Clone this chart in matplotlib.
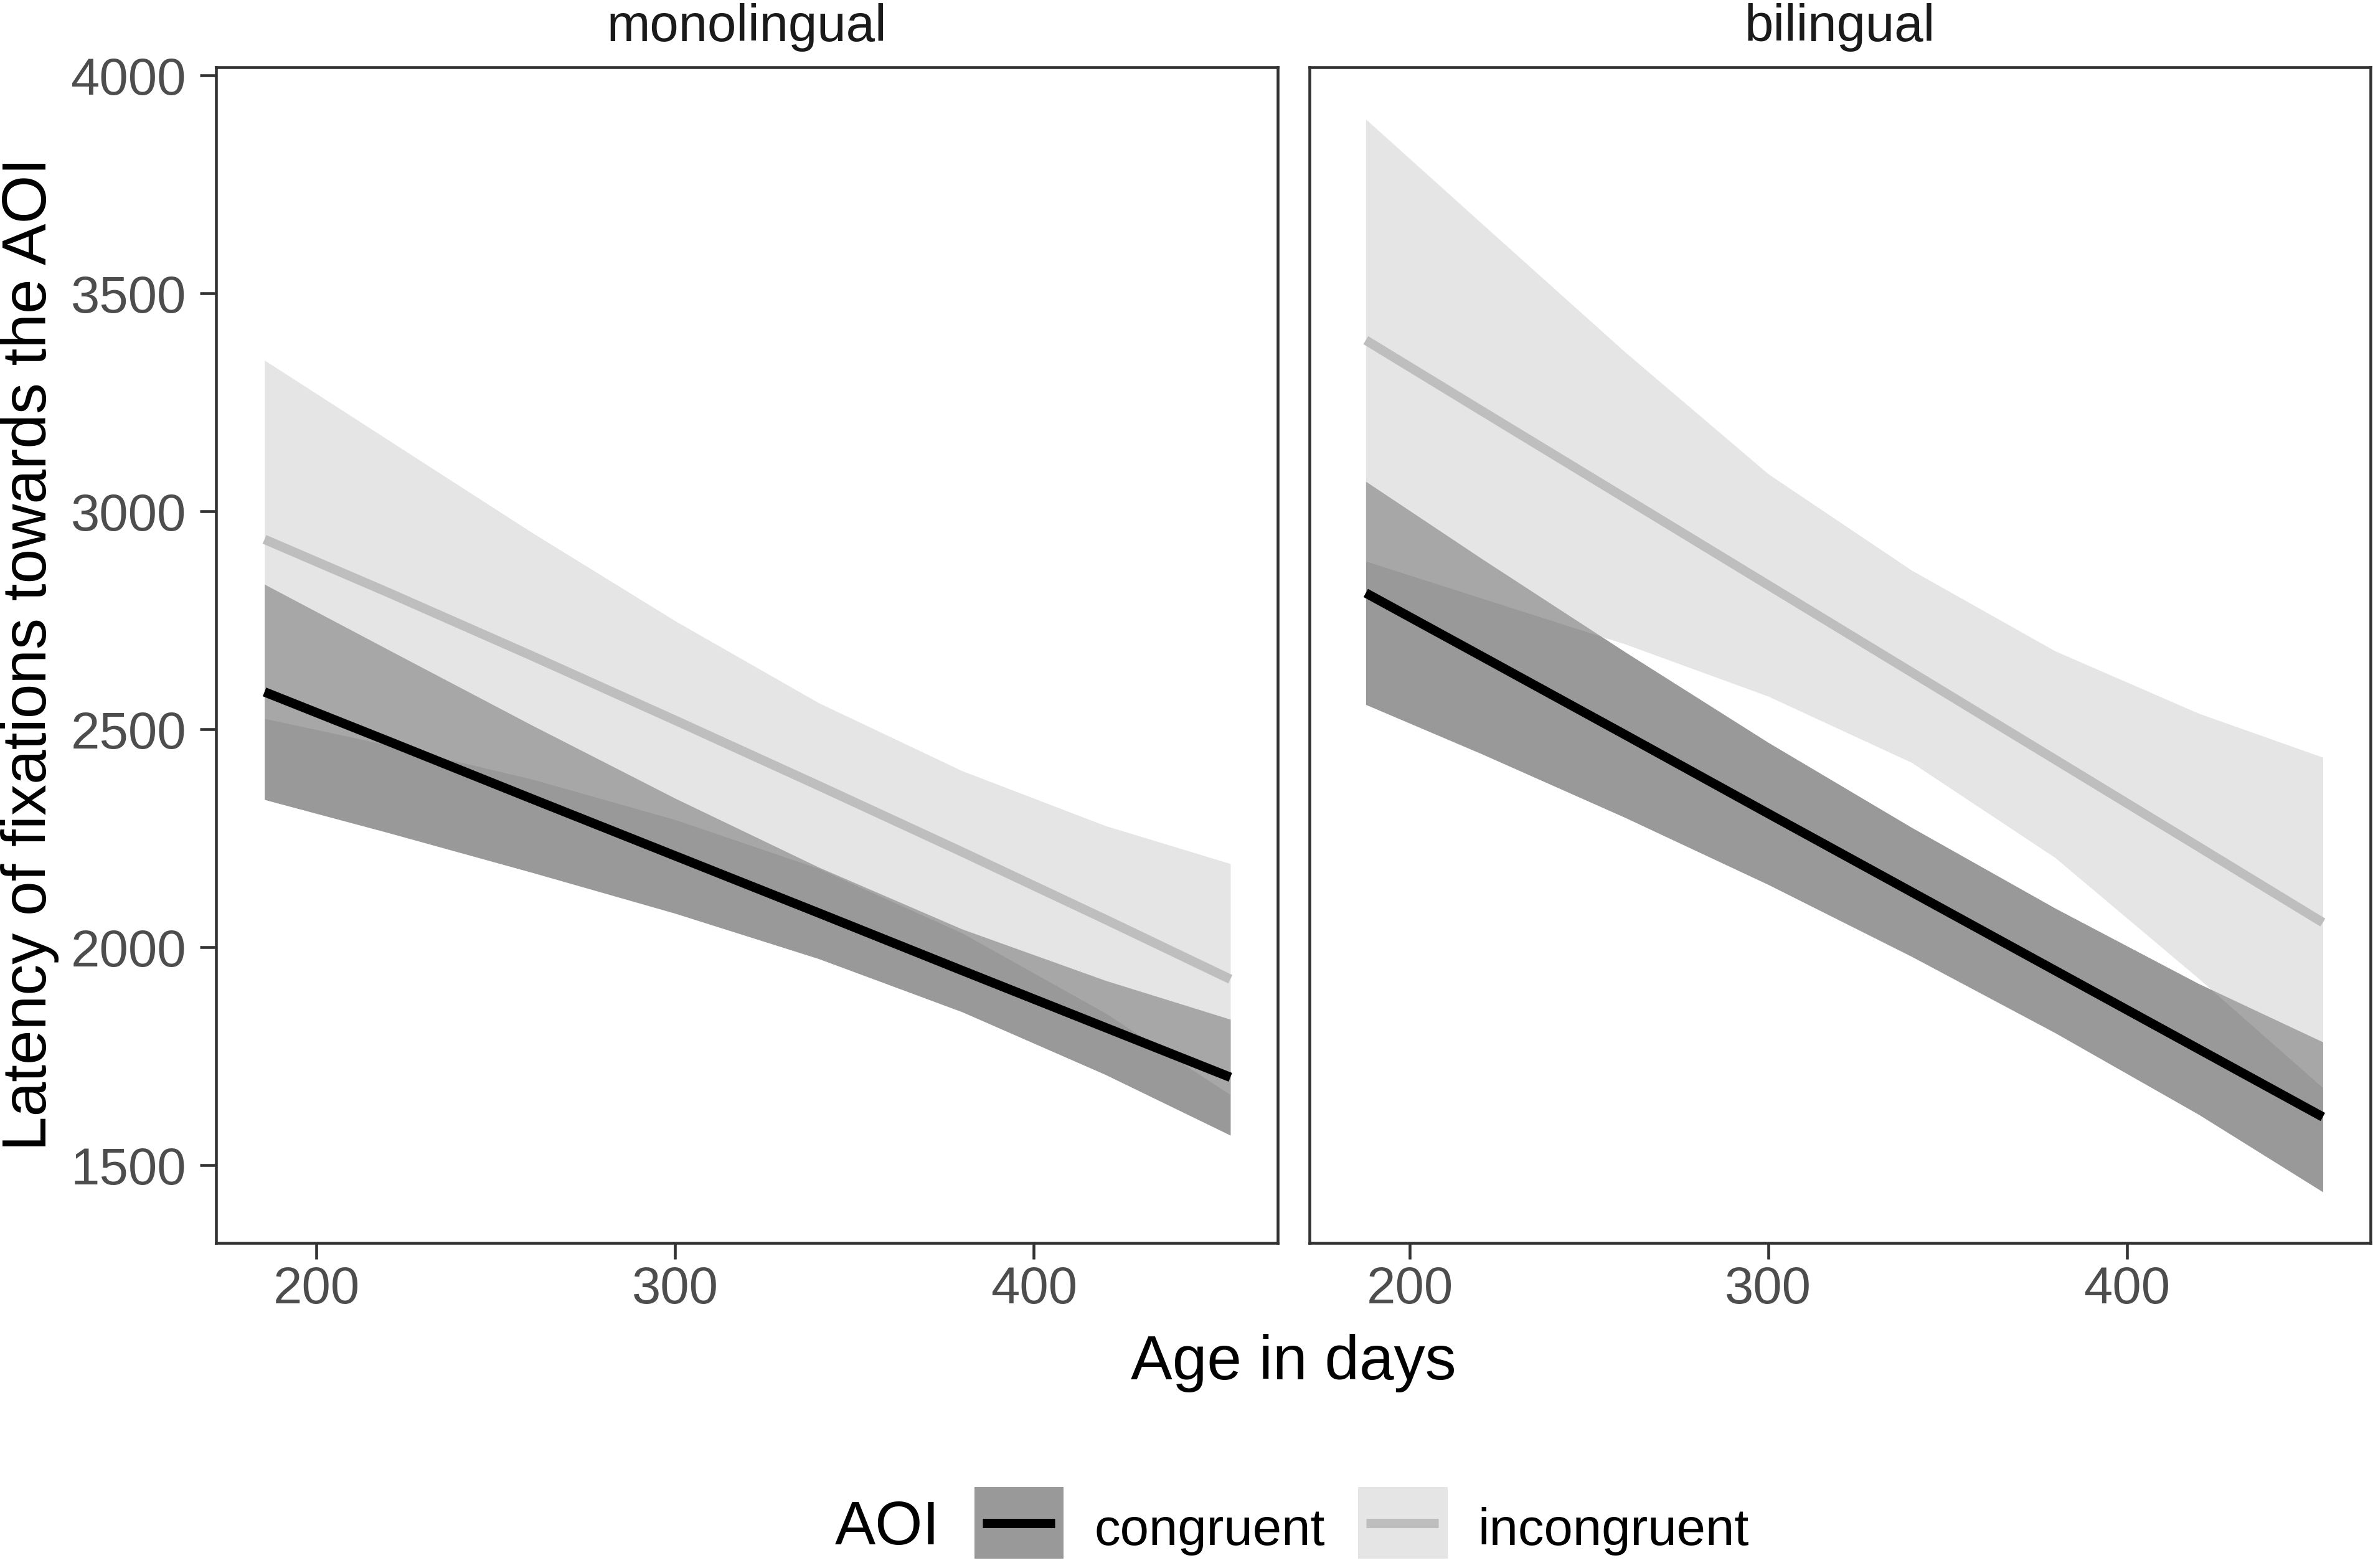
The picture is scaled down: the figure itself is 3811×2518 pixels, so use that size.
"""
    Latency of fixations towards the AOI by age, monolingual vs bilingual infants
"""

import matplotlib
matplotlib.use('Agg')
import matplotlib.pyplot as plt
from matplotlib.patches import Rectangle
from matplotlib.lines import Line2D

plt.rcParams['font.family'] = ['Liberation Sans', 'DejaVu Sans']

panels = ['monolingual', 'bilingual']
aoi_levels = ['congruent', 'incongruent']
aoi_colors = ['#000000', '#BEBEBE']

# values (age in days, latency in ms)
mono_age = [185.5, 220, 260, 300, 340, 380, 420, 454.8]
mono_cong_fit = [2586, 2473, 2341, 2210, 2079, 1947, 1816, 1702]
mono_cong_lo = [2339, 2263, 2172, 2078, 1974, 1852, 1708, 1569]
mono_cong_hi = [2833, 2683, 2510, 2342, 2184, 2042, 1924, 1835]
mono_incong_fit = [2936, 2814, 2669, 2521, 2371, 2219, 2064, 1927]
mono_incong_lo = [2525, 2464, 2386, 2293, 2181, 2033, 1849, 1662]
mono_incong_hi = [3347, 3164, 2952, 2749, 2561, 2405, 2279, 2192]

bili_age = [187.7, 220, 260, 300, 340, 380, 420, 454.7]
bili_cong_fit = [2813, 2668, 2488, 2307, 2127, 1947, 1767, 1611]
bili_cong_lo = [2557, 2444, 2298, 2144, 1979, 1804, 1617, 1439]
bili_cong_hi = [3069, 2892, 2678, 2470, 2275, 2090, 1917, 1783]
bili_incong_fit = [3393, 3231, 3031, 2831, 2631, 2431, 2231, 2057]
bili_incong_lo = [2886, 2801, 2696, 2576, 2424, 2206, 1929, 1678]
bili_incong_hi = [3900, 3661, 3366, 3086, 2865, 2680, 2537, 2436]

x_ticks = [200, 300, 400]
y_ticks = [1500, 2000, 2500, 3000, 3500, 4000]

series = {
    'monolingual': (mono_age, [(mono_cong_fit, mono_cong_lo, mono_cong_hi),
                               (mono_incong_fit, mono_incong_lo, mono_incong_hi)]),
    'bilingual': (bili_age, [(bili_cong_fit, bili_cong_lo, bili_cong_hi),
                             (bili_incong_fit, bili_incong_lo, bili_incong_hi)]),
}

W, H = 3811, 2518
LW = 3.6
KEY_DROP = 12.5  # points, lowers the key square relative to its label


class RibbonKey:
    # legend key: ribbon-coloured square with the line across it
    def legend_artist(self, legend, orig_handle, fontsize, handlebox):
        x0 = handlebox.xdescent
        y0 = handlebox.ydescent - KEY_DROP
        w, h = handlebox.width, handlebox.height
        c = orig_handle.get_color()
        box = Rectangle((x0, y0), w, h, facecolor=c, alpha=0.4, linewidth=0,
                        transform=handlebox.get_transform())
        seg = Line2D([x0 + 0.09 * w, x0 + 0.9 * w], [y0 + h / 2, y0 + h / 2],
                     color=c, linewidth=LW, solid_capstyle='butt',
                     transform=handlebox.get_transform())
        handlebox.add_artist(box)
        handlebox.add_artist(seg)
        return box


fig = plt.figure(figsize=(W / 300, H / 300), dpi=300)

bottom = 1 - 1996 / H
height = (1996 - 108) / H
lefts = [347, 2103]
rights = [2052, 3807]

for i, name in enumerate(panels):
    ax = fig.add_axes([lefts[i] / W, bottom, (rights[i] - lefts[i]) / W, height])
    age, groups = series[name]
    for (fit, lo, hi), col in zip(groups, aoi_colors):
        ax.fill_between(age, lo, hi, color=col, alpha=0.4, linewidth=0)
        ax.plot(age, fit, color=col, linewidth=LW, solid_capstyle='butt')

    ax.set_xlim(172.0, 468.0)
    ax.set_ylim(1322, 4019)
    ax.set_xticks(x_ticks)
    ax.set_yticks(y_ticks)
    for sp in ax.spines.values():
        sp.set_color('#333333')
        sp.set_linewidth(1.1)
    ax.tick_params(axis='both', direction='out', length=6.2, width=1.1,
                   color='#333333', labelsize=20, labelcolor='#4D4D4D')
    ax.tick_params(axis='x', pad=2.5)
    ax.tick_params(axis='y', pad=5.3)
    if i > 0:
        ax.tick_params(axis='y', left=False, labelleft=False)
    ax.set_title(name, fontsize=20, color='#1A1A1A', pad=10)

fig.text(48 / W, 1 - 1050 / H, 'Latency of fixations towards the AOI',
         rotation=90, ha='center', va='center', fontsize=24, color='black')
fig.text(2077 / W, 1 - 2215 / H, 'Age in days', ha='center', va='baseline',
         fontsize=24, color='black')

handles = [Line2D([], [], color=c) for c in aoi_colors]
fig.legend(handles, aoi_levels, handler_map={Line2D: RibbonKey()},
           loc='center left', bbox_to_anchor=(1565 / W, 1 - 2453.5 / H),
           ncol=2, frameon=False, fontsize=20, handlelength=1.72,
           handleheight=1.73, handletextpad=0.59, columnspacing=0.64,
           borderpad=0, borderaxespad=0)
fig.text(1509 / W, 1 - 2480 / H, 'AOI', ha='right', va='baseline',
         fontsize=23.5, color='black')

fig.savefig('out.png', dpi=300)
